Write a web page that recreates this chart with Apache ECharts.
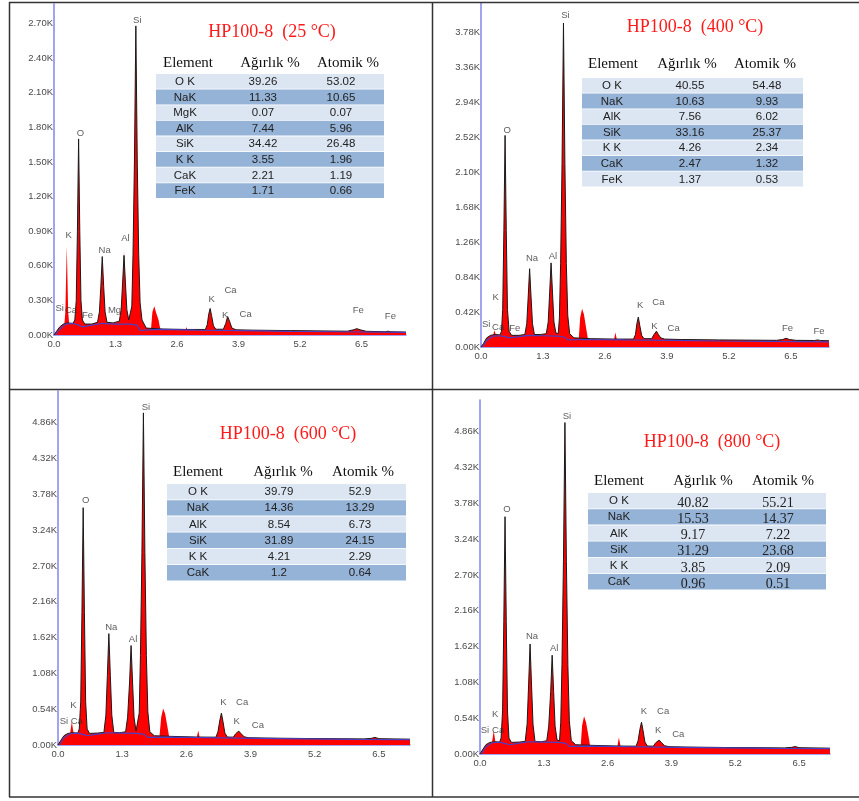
<!DOCTYPE html>
<html><head><meta charset="utf-8">
<script src="https://cdn.jsdelivr.net/npm/echarts@6/dist/echarts.min.js"></script>
<style>html,body{margin:0;padding:0;background:#fff}#c{width:859px;height:801px}</style>
</head><body><div id="c"></div>
<script>
// ---------- DATA ----------
const panelTitles = ['HP100-8  (25 °C)', 'HP100-8  (400 °C)', 'HP100-8  (600 °C)', 'HP100-8  (800 °C)'];
const tableHeader = ['Element', 'Ağırlık %', 'Atomik %'];

const elements25 = ['O K', 'NaK', 'MgK', 'AlK', 'SiK', 'K K', 'CaK', 'FeK'];
const weight25 = ['39.26', '11.33', '0.07', '7.44', '34.42', '3.55', '2.21', '1.71'];
const atomic25 = ['53.02', '10.65', '0.07', '5.96', '26.48', '1.96', '1.19', '0.66'];

const elements400 = ['O K', 'NaK', 'AlK', 'SiK', 'K K', 'CaK', 'FeK'];
const weight400 = ['40.55', '10.63', '7.56', '33.16', '4.26', '2.47', '1.37'];
const atomic400 = ['54.48', '9.93', '6.02', '25.37', '2.34', '1.32', '0.53'];

const elements600 = ['O K', 'NaK', 'AlK', 'SiK', 'K K', 'CaK'];
const weight600 = ['39.79', '14.36', '8.54', '31.89', '4.21', '1.2'];
const atomic600 = ['52.9', '13.29', '6.73', '24.15', '2.29', '0.64'];

const elements800 = ['O K', 'NaK', 'AlK', 'SiK', 'K K', 'CaK'];
const weight800 = ['40.82', '15.53', '9.17', '31.29', '3.85', '0.96'];
const atomic800 = ['55.21', '14.37', '7.22', '23.68', '2.09', '0.51'];

// spectra: [energy keV, counts]
const spec25 = [[0,0],[0.05,30],[0.12,70],[0.2,95],[0.3,105],[0.4,100],[0.44,130],[0.47,300],[0.495,900],[0.52,1700],[0.545,900],[0.57,300],[0.6,130],[0.65,95],[0.8,95],[0.92,110],[0.96,200],[0.99,420],[1.02,680],[1.05,420],[1.08,200],[1.12,110],[1.25,105],[1.38,120],[1.42,220],[1.45,450],[1.48,690],[1.51,450],[1.54,220],[1.58,130],[1.62,120],[1.645,250],[1.67,700],[1.70,1500],[1.73,2680],[1.76,1500],[1.79,700],[1.82,280],[1.86,130],[1.95,60],[2.3,52],[2.8,48],[3.2,48],[3.24,90],[3.27,180],[3.3,230],[3.33,170],[3.37,80],[3.42,50],[3.58,50],[3.63,100],[3.67,160],[3.71,120],[3.76,60],[3.85,45],[4.2,42],[5.0,38],[6.2,33],[6.33,45],[6.4,55],[6.47,45],[6.6,32],[7.0,28],[7.06,33],[7.12,28],[7.44,25]];
const red25 = [[0,0],[0.2,0],[0.24,200],[0.27,770],[0.3,200],[0.34,0],[1.44,0],[1.48,740],[1.52,0],[2.04,0],[2.08,200],[2.12,250],[2.16,190],[2.21,130],[2.27,0],[2.75,0],[2.8,70],[2.85,0],[7.44,0]];
const bg25 = [[0.03,0],[0.12,50],[0.25,95],[0.4,100],[0.5,90],[0.6,70],[0.8,85],[1.0,100],[1.3,95],[1.6,95],[1.75,85],[1.82,40],[2.2,48],[3.0,42],[4.0,38],[5.0,32],[6.0,28],[7.44,22]];

const spec400 = [[0,0],[0.05,40],[0.12,110],[0.2,140],[0.3,150],[0.4,145],[0.43,190],[0.455,450],[0.48,1400],[0.505,2540],[0.53,1400],[0.555,450],[0.59,190],[0.64,140],[0.8,140],[0.92,150],[0.96,280],[0.99,600],[1.02,940],[1.05,600],[1.08,280],[1.12,150],[1.25,150],[1.37,160],[1.41,300],[1.44,650],[1.47,1010],[1.5,650],[1.53,300],[1.57,170],[1.62,160],[1.645,350],[1.67,1000],[1.70,2200],[1.73,3890],[1.76,2200],[1.79,1000],[1.82,380],[1.86,160],[1.95,110],[2.3,100],[2.8,95],[3.2,95],[3.24,150],[3.27,280],[3.3,360],[3.33,260],[3.37,140],[3.42,100],[3.58,100],[3.63,150],[3.68,190],[3.72,150],[3.77,110],[3.85,95],[4.2,90],[5.0,85],[6.2,80],[6.33,90],[6.4,105],[6.47,90],[6.6,80],[7.0,78],[7.06,85],[7.12,78],[7.3,75]];
const red400 = [[0,0],[0.22,0],[0.26,150],[0.28,200],[0.31,150],[0.34,0],[2.04,0],[2.08,350],[2.12,460],[2.16,390],[2.21,210],[2.27,0],[2.76,0],[2.82,175],[2.88,0],[7.3,0]];
const bg400 = [[0.03,0],[0.12,80],[0.25,130],[0.4,135],[0.5,125],[0.6,110],[0.8,125],[1.0,140],[1.3,135],[1.6,130],[1.75,120],[1.82,85],[2.2,90],[3.0,85],[4.0,80],[5.0,72],[6.0,68],[7.3,62]];

const spec600 = [[0,0],[0.05,60],[0.12,140],[0.2,175],[0.3,185],[0.4,180],[0.43,240],[0.46,650],[0.485,2000],[0.51,3580],[0.535,2000],[0.56,650],[0.59,240],[0.64,175],[0.8,180],[0.93,190],[0.97,450],[1.0,1050],[1.03,1680],[1.06,1050],[1.09,450],[1.13,190],[1.25,185],[1.37,200],[1.41,420],[1.45,950],[1.48,1500],[1.51,950],[1.54,420],[1.58,210],[1.62,200],[1.645,480],[1.67,1350],[1.70,2900],[1.73,5010],[1.76,2900],[1.79,1350],[1.82,500],[1.86,200],[1.95,140],[2.3,130],[2.8,120],[3.2,118],[3.24,200],[3.28,380],[3.31,480],[3.34,360],[3.38,180],[3.43,120],[3.55,118],[3.6,170],[3.66,210],[3.71,170],[3.77,125],[3.85,110],[4.2,105],[5.0,98],[6.2,92],[6.35,100],[6.42,115],[6.5,95],[7.13,88]];
const red600 = [[0,0],[0.22,0],[0.25,200],[0.28,350],[0.31,200],[0.34,0],[2.04,0],[2.09,420],[2.13,550],[2.17,470],[2.22,260],[2.28,0],[2.78,0],[2.84,220],[2.9,0],[7.13,0]];
const bg600 = [[0.03,0],[0.12,110],[0.25,170],[0.4,180],[0.5,160],[0.6,140],[0.8,165],[1.0,185],[1.3,180],[1.6,175],[1.75,160],[1.82,115],[2.2,120],[3.0,110],[4.0,100],[5.0,92],[6.0,85],[7.13,80]];

const spec800 = [[0,0],[0.05,60],[0.12,140],[0.2,175],[0.3,185],[0.4,180],[0.43,240],[0.46,650],[0.485,2000],[0.51,3580],[0.535,2000],[0.56,650],[0.59,240],[0.64,175],[0.8,180],[0.92,190],[0.96,450],[0.99,1040],[1.02,1660],[1.05,1040],[1.08,450],[1.12,190],[1.25,185],[1.36,200],[1.4,420],[1.44,940],[1.47,1490],[1.5,940],[1.53,420],[1.57,210],[1.62,200],[1.645,480],[1.67,1350],[1.70,2900],[1.73,5000],[1.76,2900],[1.79,1350],[1.82,500],[1.86,200],[1.95,140],[2.3,130],[2.8,120],[3.18,118],[3.22,200],[3.26,380],[3.29,480],[3.32,360],[3.36,180],[3.41,120],[3.53,118],[3.58,170],[3.65,210],[3.7,170],[3.76,125],[3.85,110],[4.2,105],[5.0,98],[6.2,92],[6.35,100],[6.42,112],[6.5,95],[7.13,88]];
const red800 = [[0,0],[0.22,0],[0.25,200],[0.28,350],[0.31,200],[0.34,0],[2.04,0],[2.08,430],[2.12,570],[2.16,480],[2.21,270],[2.27,0],[2.77,0],[2.83,250],[2.89,0],[7.13,0]];
const bg800 = [[0.03,0],[0.12,110],[0.25,170],[0.4,180],[0.5,160],[0.6,140],[0.8,165],[1.0,185],[1.3,180],[1.6,175],[1.75,160],[1.82,115],[2.2,120],[3.0,110],[4.0,100],[5.0,92],[6.0,85],[7.13,80]];

// peak annotations: name, [keV, counts]
const labelNames25 = ['Si','Ca','Fe','K','O','Na','Mg','Al','Si','K','Ca','K','Ca','Fe','Fe'];
const labelPos25 = [[0.12,230],[0.36,210],[0.71,170],[0.31,860],[0.56,1750],[1.07,730],[1.28,210],[1.51,840],[1.76,2730],[3.33,310],[3.73,390],[3.62,170],[4.05,180],[6.43,210],[7.11,160]];
const labelNames400 = ['Si','Ca','Fe','K','O','Na','Al','Si','K','Ca','K','Ca','Fe','Fe'];
const labelPos400 = [[0.11,270],[0.36,240],[0.71,220],[0.31,600],[0.55,2600],[1.07,1070],[1.51,1090],[1.77,3980],[3.34,500],[3.72,530],[3.64,250],[4.04,220],[6.43,220],[7.09,190]];
const labelNames600 = ['Si','Ca','K','O','Na','Al','Si','K','Ca','K','Ca'];
const labelPos600 = [[0.12,360],[0.38,360],[0.31,600],[0.56,3690],[1.08,1770],[1.52,1600],[1.78,5100],[3.35,650],[3.73,650],[3.62,360],[4.05,290]];
const labelNames800 = ['Si','Ca','K','O','Na','Al','Si','K','Ca','K','Ca'];
const labelPos800 = [[0.1,350],[0.37,350],[0.31,600],[0.55,3690],[1.06,1770],[1.51,1600],[1.77,5100],[3.34,650],[3.73,650],[3.63,350],[4.04,290]];

const xTickStep = 1.3;
const yTickSteps = [300, 420, 540, 540];
const yMaxes = [2870, 4130, 5340, 5340];
const xMaxes = [7.44, 7.30, 7.13, 7.13];

// ---------- LAYOUT ----------
const grids = [
  {left: 54, top: 4, width: 352, height: 331},
  {left: 481, top: 3, width: 348, height: 344},
  {left: 58, top: 391, width: 352, height: 354},
  {left: 480, top: 400, width: 350, height: 354}
];
const titlePos = [[272, 32], [695, 27], [288, 434], [712, 442]];
const tableLayout = [
  {left: 156, top: 74, width: 228, rowH: 15.6, cols: [185, 263, 341], headY: 63, headX: [188, 270, 348], serifVals: false},
  {left: 582, top: 78, width: 221, rowH: 15.6, cols: [612, 690, 767], headY: 64, headX: [613, 687, 765], serifVals: false},
  {left: 167, top: 484, width: 239, rowH: 16.2, cols: [198, 279, 360], headY: 472, headX: [198, 283, 363], serifVals: false},
  {left: 588, top: 493, width: 238, rowH: 16.2, cols: [619, 693, 778], headY: 481, headX: [619, 703, 783], serifVals: true}
];

const tables = [
  [elements25, weight25, atomic25],
  [elements400, weight400, atomic400],
  [elements600, weight600, atomic600],
  [elements800, weight800, atomic800]
];
const specs = [spec25, spec400, spec600, spec800];
const reds = [red25, red400, red600, red800];
const bgs = [bg25, bg400, bg600, bg800];
const labelNames = [labelNames25, labelNames400, labelNames600, labelNames800];
const labelPoss = [labelPos25, labelPos400, labelPos600, labelPos800];

const axisBlue = '#8585f0';
const xAxes = [], yAxes = [], series = [], graphics = [];

for (let i = 0; i < 4; i++) {
  xAxes.push({
    type: 'value', gridIndex: i, min: 0, max: xMaxes[i], interval: xTickStep,
    axisLine: {show: true, onZero: false, lineStyle: {color: axisBlue, width: 1.5}},
    axisTick: {show: false}, splitLine: {show: false},
    axisLabel: {show: true, showMaxLabel: false, margin: 4, fontSize: 9.5, color: '#4a4a4a', fontFamily: 'Liberation Sans',
      formatter: v => v.toFixed(1)}
  });
  yAxes.push({
    type: 'value', gridIndex: i, min: 0, max: yMaxes[i], interval: yTickSteps[i],
    axisLine: {show: true, lineStyle: {color: axisBlue, width: 1.5}},
    axisTick: {show: false}, splitLine: {show: false},
    axisLabel: {show: true, showMaxLabel: false, margin: 1, fontSize: 9.5, color: '#4a4a4a', fontFamily: 'Liberation Sans',
      formatter: v => (v / 1000).toFixed(2) + 'K'}
  });
  series.push({
    type: 'line', xAxisIndex: i, yAxisIndex: i, data: reds[i], symbol: 'none', silent: true,
    lineStyle: {width: 0}, areaStyle: {color: '#ff0000', opacity: 1}, z: 2
  });
  series.push({
    type: 'line', xAxisIndex: i, yAxisIndex: i, data: specs[i], symbol: 'none', silent: true,
    lineStyle: {color: '#1a1a1a', width: 1}, areaStyle: {color: '#ff0000', opacity: 1}, z: 3
  });
  series.push({
    type: 'line', xAxisIndex: i, yAxisIndex: i, data: bgs[i], symbol: 'none', silent: true,
    lineStyle: {color: '#4b3fc4', width: 1.2}, z: 4
  });
  series.push({
    type: 'scatter', xAxisIndex: i, yAxisIndex: i, symbolSize: 0, silent: true, z: 5,
    data: labelNames[i].map((n, k) => ({name: n, value: labelPoss[i][k]})),
    label: {show: true, position: 'inside', formatter: '{b}', fontSize: 9.5, color: '#333', fontFamily: 'Liberation Sans'}
  });

  // title
  graphics.push({type: 'text', z: 50, style: {text: panelTitles[i], x: titlePos[i][0], y: titlePos[i][1],
    textAlign: 'center', textVerticalAlign: 'middle', fill: '#ff1a1a', font: '18px "Liberation Serif"'}});
  // table
  const L = tableLayout[i];
  const t = tables[i];
  for (let h = 0; h < 3; h++) {
    graphics.push({type: 'text', z: 50, style: {text: tableHeader[h], x: L.headX[h], y: L.headY,
      textAlign: 'center', textVerticalAlign: 'middle', fill: '#111', font: '15px "Liberation Serif"'}});
  }
  for (let r = 0; r < t[0].length; r++) {
    const y0 = L.top + r * L.rowH;
    graphics.push({type: 'rect', z: 40, shape: {x: L.left, y: y0, width: L.width, height: L.rowH - 0.8},
      style: {fill: r % 2 === 0 ? '#dce6f2' : '#95b3d7'}});
    for (let c = 0; c < 3; c++) {
      const serif = c > 0 && L.serifVals;
      graphics.push({type: 'text', z: 50, style: {text: t[c][r], x: L.cols[c], y: y0 + L.rowH / 2 + (serif ? 2 : 0),
        textAlign: 'center', textVerticalAlign: 'middle', fill: '#222',
        font: serif ? '14px "Liberation Serif"' : '11.5px "Liberation Sans"'}});
    }
  }
}

// frame lines
const frameLines = [[9, 2.5, 859, 2.5], [9.5, 2, 9.5, 797], [432.5, 2, 432.5, 797], [9, 389.5, 859, 389.5], [9, 797, 859, 797]];
frameLines.forEach(l => graphics.push({type: 'line', z: 60, shape: {x1: l[0], y1: l[1], x2: l[2], y2: l[3]},
  style: {stroke: '#333', lineWidth: 1.5}}));

const chart = echarts.init(document.getElementById('c'), null, {renderer: 'canvas'});
chart.setOption({
  animation: false,
  backgroundColor: '#ffffff',
  grid: grids.map(g => Object.assign({containLabel: false}, g)),
  xAxis: xAxes, yAxis: yAxes, series: series, graphic: graphics
});
</script></body></html>
